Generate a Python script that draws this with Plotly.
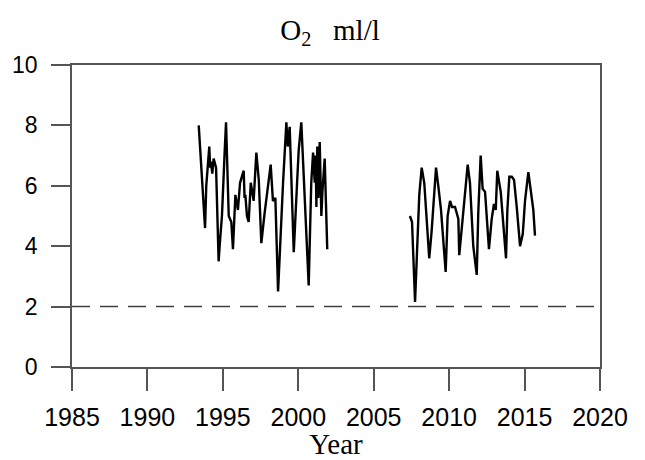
import plotly.graph_objects as go

# ---- data ----
years_1 = [1993.40, 1993.55, 1993.68, 1993.82, 1993.90, 1994.10, 1994.16, 1994.21, 1994.30, 1994.39, 1994.55,
           1994.64, 1994.72, 1994.80, 1994.94, 1995.10, 1995.21, 1995.39, 1995.56, 1995.67, 1995.83, 1996.00,
           1996.07, 1996.14, 1996.38, 1996.44, 1996.49, 1996.60, 1996.71, 1996.85, 1997.04, 1997.22, 1997.38, 1997.55,
           1997.77, 1997.95, 1998.17, 1998.32, 1998.48, 1998.66, 1998.87, 1998.99, 1999.21,
           1999.30, 1999.43, 1999.52, 1999.70, 1999.92, 2000.03, 2000.20, 2000.31, 2000.53, 2000.69,
           2000.86, 2000.98, 2001.09, 2001.15, 2001.20, 2001.26, 2001.33, 2001.42, 2001.53, 2001.60,
           2001.75, 2001.86, 2001.92]
o2_1 = [8.0, 6.7, 5.7, 4.6, 6.0, 7.3, 6.6, 6.8, 6.4, 6.9, 6.6,
        4.3, 3.5, 4.1, 5.0, 6.9, 8.1, 5.0, 4.8, 3.9, 5.7, 5.2,
        5.6, 6.1, 6.5, 5.6, 5.7, 5.0, 4.8, 6.1, 5.5, 7.1, 6.2, 4.1,
        5.1, 5.8, 6.7, 5.5, 5.6, 2.5, 5.0, 6.1, 8.1,
        7.3, 7.95, 6.7, 3.8, 6.1, 7.2, 8.1, 6.9, 4.6, 2.7,
        6.1, 7.1, 6.1, 7.0, 5.3, 7.3, 5.6, 7.45, 5.0, 5.8,
        6.9, 5.0, 3.9]

years_2 = [2007.40, 2007.54, 2007.74, 2007.89, 2008.02, 2008.18, 2008.35, 2008.47, 2008.68,
           2008.84, 2009.00, 2009.13, 2009.28, 2009.46, 2009.77, 2009.90, 2010.06, 2010.19,
           2010.39, 2010.61, 2010.67, 2010.87, 2011.05, 2011.23, 2011.38, 2011.60, 2011.83,
           2011.93, 2012.09, 2012.22, 2012.38, 2012.64, 2012.82, 2012.97, 2013.09, 2013.19,
           2013.42, 2013.77, 2013.86, 2013.99, 2014.15, 2014.30, 2014.48, 2014.70, 2014.88,
           2015.03, 2015.25, 2015.47, 2015.58, 2015.69]
o2_2 = [5.0, 4.8, 2.15, 4.3, 5.7, 6.6, 6.1, 5.2, 3.6,
        4.5, 5.7, 6.6, 6.0, 5.2, 3.15, 5.0, 5.5, 5.3,
        5.3, 4.9, 3.7, 4.8, 5.8, 6.7, 6.1, 4.0, 3.05,
        5.1, 7.0, 5.9, 5.8, 3.9, 4.9, 5.4, 5.2, 6.5,
        5.8, 3.6, 5.2, 6.3, 6.3, 6.2, 5.3, 4.0, 4.4,
        5.5, 6.45, 5.7, 5.2, 4.35]

THRESHOLD = 2
x_ticks = [1985, 1990, 1995, 2000, 2005, 2010, 2015, 2020]
y_ticks = [0, 2, 4, 6, 8, 10]
X_RANGE = [1985, 2020]
Y_RANGE = [0, 10]

AXIS_COLOR = "#555555"

fig = go.Figure()
fig.add_trace(go.Scatter(x=years_1, y=o2_1, mode="lines",
                         line=dict(color="black", width=2.4), showlegend=False))
fig.add_trace(go.Scatter(x=years_2, y=o2_2, mode="lines",
                         line=dict(color="black", width=2.4), showlegend=False))
fig.add_trace(go.Scatter(x=X_RANGE, y=[THRESHOLD, THRESHOLD], mode="lines",
                         line=dict(color="#404040", width=1.5, dash="18px,10px"),
                         showlegend=False, cliponaxis=False))

fig.update_layout(
    width=637, height=452,
    margin=dict(l=64, r=45, t=57, b=93),
    paper_bgcolor="white", plot_bgcolor="white",
    title=dict(text="O<sub>2</sub>\u00a0\u00a0\u00a0ml/l", x=0.5055, xanchor="center",
               y=0.952, yanchor="middle",
               font=dict(family="Liberation Serif", size=29, color="black")),
    xaxis=dict(range=X_RANGE, tickvals=x_ticks, ticktext=[str(t) for t in x_ticks],
               automargin=False,
               ticks="outside", ticklen=22, tickwidth=1.5, tickcolor=AXIS_COLOR,
               ticklabelstandoff=5,
               showline=True, linecolor=AXIS_COLOR, linewidth=1.5, mirror=True,
               showgrid=False, zeroline=False,
               tickfont=dict(family="Liberation Sans", size=25, color="black"),
               title=dict(text="Year", standoff=2,
                          font=dict(family="Liberation Serif", size=29, color="black"))),
    yaxis=dict(range=Y_RANGE, tickvals=y_ticks,
               automargin=False,
               ticks="outside", ticklen=19, tickwidth=1.5, tickcolor=AXIS_COLOR,
               ticklabelstandoff=9,
               showline=True, linecolor=AXIS_COLOR, linewidth=1.5, mirror=True,
               showgrid=False, zeroline=False,
               tickfont=dict(family="Liberation Sans", size=23, color="black")),
)

fig.write_html("out.html")
